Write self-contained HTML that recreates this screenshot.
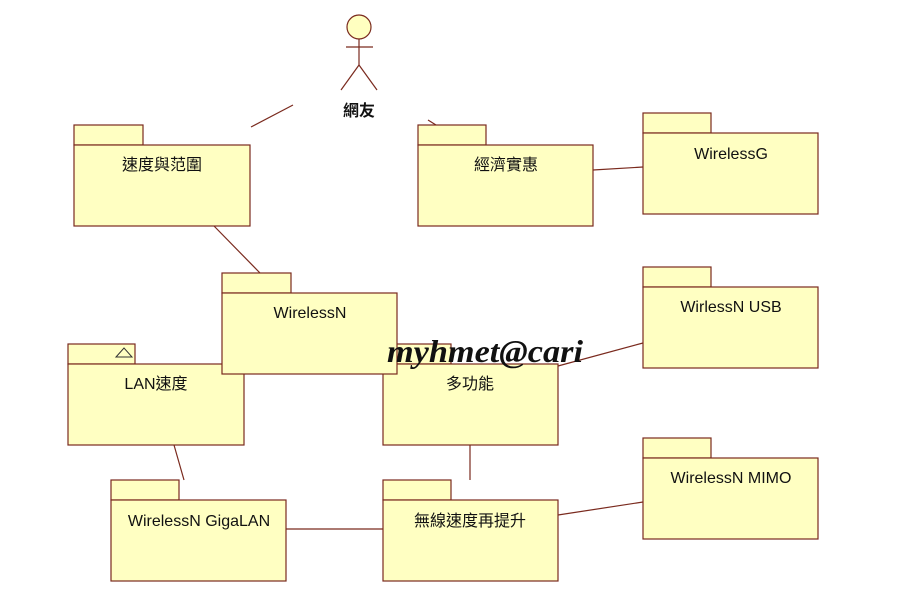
<!DOCTYPE html>
<html><head><meta charset="utf-8"><style>
html,body{margin:0;padding:0;background:#fff;width:910px;height:610px;overflow:hidden}
svg text{font-family:"Liberation Sans","Noto Sans CJK TC",sans-serif;font-size:16px;fill:#111}
</style></head><body>
<svg width="910" height="610" xmlns="http://www.w3.org/2000/svg">
<g stroke="#7a2a1e" stroke-width="1.2" fill="none">
<line x1="251" y1="127" x2="293" y2="105"/>
<line x1="428" y1="120" x2="436" y2="125"/>
<line x1="593" y1="170" x2="643" y2="167"/>
<line x1="214" y1="226" x2="260" y2="273"/>
<line x1="558" y1="366" x2="643" y2="343"/>
<line x1="174" y1="445" x2="184" y2="480"/>
<line x1="470" y1="445" x2="470" y2="480"/>
<line x1="286" y1="529" x2="383" y2="529"/>
<line x1="558" y1="515" x2="643" y2="502"/>
</g>
<g stroke="#7a2a1e" stroke-width="1.2">
<circle cx="359" cy="27" r="12" fill="#ffffc0"/>
<line x1="359" y1="39" x2="359" y2="65"/>
<line x1="346" y1="47" x2="373" y2="47"/>
<line x1="359" y1="65" x2="341" y2="90"/>
<line x1="359" y1="65" x2="377" y2="90"/>
</g>
<text x="359" y="116" text-anchor="middle" style="font-weight:bold;font-size:16px">網友</text>
<g stroke="#7a2a1e" stroke-width="1.2" fill="#ffffc2">
<rect x="74" y="125" width="69" height="20"/><rect x="74" y="145" width="176" height="81"/>
<rect x="418" y="125" width="68" height="20"/><rect x="418" y="145" width="175" height="81"/>
<rect x="643" y="113" width="68" height="20"/><rect x="643" y="133" width="175" height="81"/>
<rect x="68" y="344" width="67" height="20"/><rect x="68" y="364" width="176" height="81"/>
<rect x="383" y="344" width="68" height="20"/><rect x="383" y="364" width="175" height="81"/>
<rect x="222" y="273" width="69" height="20"/><rect x="222" y="293" width="175" height="81"/>
<rect x="643" y="267" width="68" height="20"/><rect x="643" y="287" width="175" height="81"/>
<rect x="643" y="438" width="68" height="20"/><rect x="643" y="458" width="175" height="81"/>
<rect x="111" y="480" width="68" height="20"/><rect x="111" y="500" width="175" height="81"/>
<rect x="383" y="480" width="68" height="20"/><rect x="383" y="500" width="175" height="81"/>
</g>
<polygon points="116,357 124,348 132,357" fill="none" stroke="#333" stroke-width="1"/>
<text x="162" y="170" text-anchor="middle">速度與范圍</text>
<text x="506" y="170" text-anchor="middle">經濟實惠</text>
<text x="731" y="159" text-anchor="middle">WirelessG</text>
<text x="310" y="318" text-anchor="middle">WirelessN</text>
<text x="156" y="389" text-anchor="middle">LAN速度</text>
<text x="470" y="389" text-anchor="middle">多功能</text>
<text x="731" y="312" text-anchor="middle">WirlessN USB</text>
<text x="731" y="483" text-anchor="middle">WirelessN MIMO</text>
<text x="199" y="526" text-anchor="middle">WirelessN GigaLAN</text>
<text x="470" y="526" text-anchor="middle">無線速度再提升</text>
<text x="387" y="362" textLength="196" lengthAdjust="spacingAndGlyphs" style="font-family:'Liberation Serif',serif;font-style:italic;font-weight:bold;font-size:32px;fill:#111">myhmet@cari</text>
</svg>
</body></html>
